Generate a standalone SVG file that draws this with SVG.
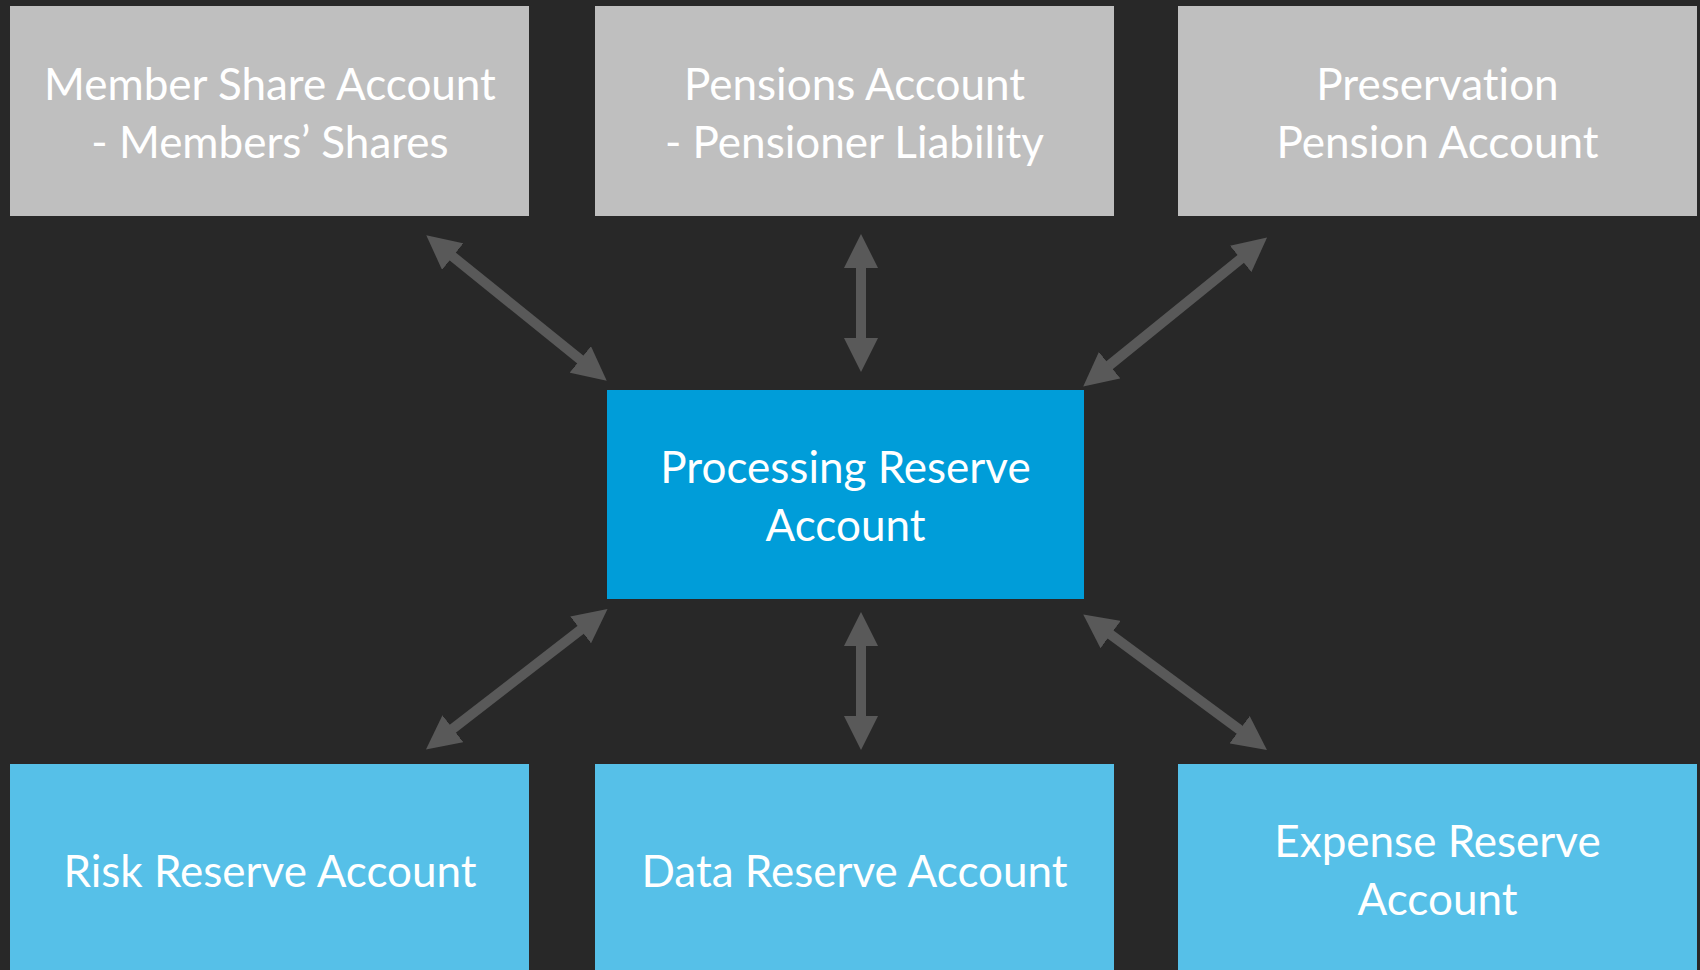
<svg xmlns="http://www.w3.org/2000/svg" width="1700" height="970" viewBox="0 0 1700 970">
<style>
.grey{fill:#BFBFBF}
.main{fill:#009DD9}
.light{fill:#56C0E8}
.lbl{font-family:Lato,"Open Sans","Liberation Sans",sans-serif;font-size:44px;fill:#FFFFFF;text-anchor:middle;font-variant-ligatures:none;font-feature-settings:"liga" 0}
.conn{stroke:#595959;stroke-width:10;fill:none;marker-start:url(#ah);marker-end:url(#ah)}
</style>
<defs>
<marker id="ah" markerUnits="userSpaceOnUse" markerWidth="34" markerHeight="34" viewBox="0 0 34 34" refX="3" refY="17" orient="auto-start-reverse">
<path d="M0,0 L34,17 L0,34 Z" fill="#595959"/>
</marker>
</defs>
<rect x="0" y="0" width="1700" height="970" fill="#282828"/>
<g id="member-share">
<rect class="grey" x="10" y="6" width="519" height="210"/>
<text class="lbl" x="270" y="100">Member Share Account</text>
<text class="lbl" x="270" y="158">- Members’ Shares</text>
</g>
<g id="pensions">
<rect class="grey" x="595" y="6" width="519" height="210"/>
<text class="lbl" x="854.5" y="100">Pensions Account</text>
<text class="lbl" x="854.5" y="158">- Pensioner Liability</text>
</g>
<g id="preservation">
<rect class="grey" x="1178" y="6" width="519" height="210"/>
<text class="lbl" x="1437.5" y="100">Preservation</text>
<text class="lbl" x="1437.5" y="158">Pension Account</text>
</g>
<g id="processing">
<rect class="main" x="607" y="390" width="477" height="209"/>
<text class="lbl" x="845.5" y="483">Processing Reserve</text>
<text class="lbl" x="845.5" y="541">Account</text>
</g>
<g id="risk">
<rect class="light" x="10" y="764" width="519" height="210"/>
<text class="lbl" x="270" y="887">Risk Reserve Account</text>
</g>
<g id="data">
<rect class="light" x="595" y="764" width="519" height="210"/>
<text class="lbl" x="854.5" y="887">Data Reserve Account</text>
</g>
<g id="expense">
<rect class="light" x="1178" y="764" width="519" height="210"/>
<text class="lbl" x="1437.5" y="857">Expense Reserve</text>
<text class="lbl" x="1437.5" y="915">Account</text>
</g>
<g id="connectors">
<line class="conn" x1="450.4" y1="254.7" x2="582.6" y2="361.3"/>
<line class="conn" x1="861" y1="265" x2="861" y2="341"/>
<line class="conn" x1="1243" y1="257" x2="1107.3" y2="367"/>
<line class="conn" x1="583" y1="628" x2="450.5" y2="730.5"/>
<line class="conn" x1="861" y1="643" x2="861" y2="719"/>
<line class="conn" x1="1108.2" y1="632.8" x2="1242" y2="731.5"/>
</g>
</svg>
